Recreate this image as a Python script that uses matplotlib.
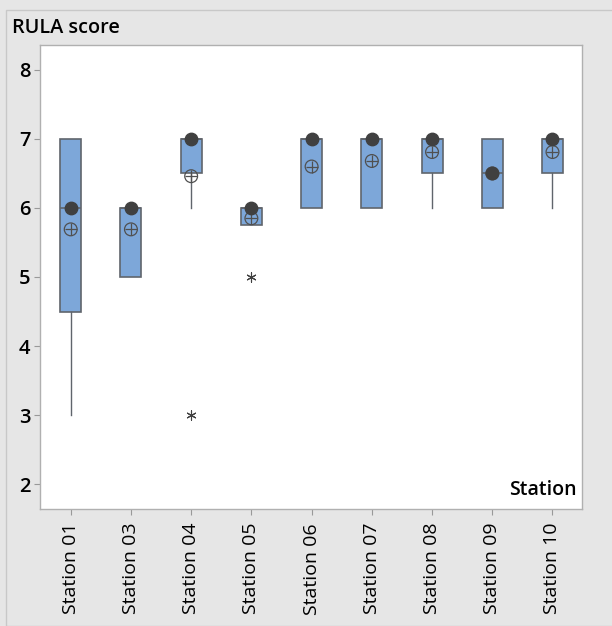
import matplotlib
import numpy as np

matplotlib.use("Agg")
import matplotlib.pyplot as plt
from matplotlib.patches import Rectangle

stations = ["Station 01", "Station 03", "Station 04", "Station 05", "Station 06",
            "Station 07", "Station 08", "Station 09", "Station 10"]
q1 = [4.5, 5.0, 6.5, 5.75, 6.0, 6.0, 6.5, 6.0, 6.5]
q3 = [7.0, 6.0, 7.0, 6.0, 7.0, 7.0, 7.0, 7.0, 7.0]
medians = [6.0, 6.0, 7.0, 6.0, 7.0, 7.0, 7.0, 6.5, 7.0]
means = [5.69, 5.69, 6.46, 5.85, 6.6, 6.68, 6.81, 6.5, 6.81]
whisker_low = [3.0, 5.0, 6.0, 5.75, 6.0, 6.0, 6.0, 6.0, 6.0]
whisker_high = [7.0, 6.0, 7.0, 6.0, 7.0, 7.0, 7.0, 7.0, 7.0]
outliers = [[], [], [3.0], [5.0], [], [], [], [], []]

plt.rcParams["font.family"] = ["Open Sans", "DejaVu Sans"]

fig = plt.figure(figsize=(6.12, 6.26), dpi=100, facecolor="#e6e6e6")
fig.patches.append(Rectangle((6 / 612, 0), 1, 1 - 10 / 626, transform=fig.transFigure,
                             facecolor="none", edgecolor="#c8c8c8", linewidth=1))
ax = fig.add_axes([40 / 612, 1 - 509 / 626, 542 / 612, 464 / 626])
ax.set_facecolor("white")

pos = np.arange(1, len(stations) + 1)
stats = [
    {"q1": a, "q3": b, "med": m, "whislo": lo, "whishi": hi, "fliers": []}
    for a, b, m, lo, hi in zip(q1, q3, medians, whisker_low, whisker_high)
]
ax.bxp(stats, positions=pos, widths=0.35, patch_artist=True, showcaps=False,
       showfliers=False,
       boxprops=dict(facecolor="#7da7d9", edgecolor="#60656c", linewidth=1.2),
       medianprops=dict(color="#60656c", linewidth=1.2),
       whiskerprops=dict(color="#60656c", linewidth=1.0))

ax.scatter(pos, means, s=85, marker="o", facecolors="none", edgecolors="#505050",
           linewidths=0.9, zorder=4)
ax.scatter(pos, means, s=85, marker="+", color="#505050", linewidths=0.9, zorder=4)
ax.scatter(pos, medians, s=80, marker="o", color="#404040", zorder=5)
for p, vals in zip(pos, outliers):
    if vals:
        ax.scatter([p] * len(vals), vals, s=45, marker=(6, 2, 0), color="#404040",
                   linewidths=0.8, zorder=5)

ax.set_xlim(0.49, 9.49)
ax.set_ylim(1.64, 8.36)
ax.set_yticks([2, 3, 4, 5, 6, 7, 8])
ax.set_xticks(pos, stations, rotation=90)
ax.tick_params(axis="both", colors="#999999", labelcolor="black", length=4, width=0.8)
ax.tick_params(axis="y", labelsize=14.5, pad=3)
ax.tick_params(axis="x", labelsize=14, pad=6)
for lab in ax.get_yticklabels():
    lab.set_fontweight("semibold")
for spine in ax.spines.values():
    spine.set_color("#b0b0b0")
    spine.set_linewidth(1.0)

fig.text(12 / 612, 1 - 28 / 626, "RULA score", fontsize=14.3, fontweight="semibold",
         va="center", ha="left")
ax.text(0.99, 0.02, "Station", transform=ax.transAxes, fontsize=14,
        fontweight="semibold", ha="right", va="bottom")

fig.savefig("out.png", dpi=100, facecolor=fig.get_facecolor())
